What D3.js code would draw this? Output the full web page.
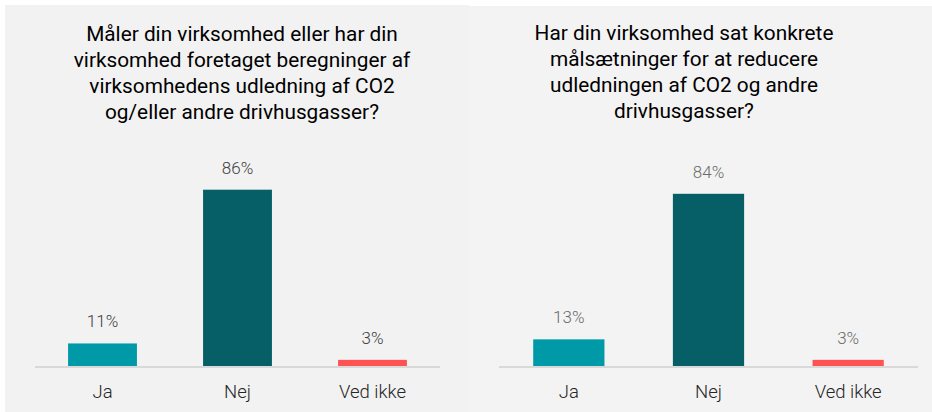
<!DOCTYPE html>
<html>
<head>
<meta charset="utf-8">
<script src="https://cdn.jsdelivr.net/npm/d3@7"></script>
<style>
  body { margin: 0; background: #fff; }
  svg { display: block; font-family: Roboto, "Noto Sans", sans-serif; }
</style>
</head>
<body>
<svg id="chart" width="932" height="412"></svg>
<script>
// data
const categories = ["Ja", "Nej", "Ved ikke"]
const maalerValues = [11, 86, 3]
const maalTitle = [
  "Måler din virksomhed eller har din",
  "virksomhed foretaget beregninger af",
  "virksomhedens udledning af CO2",
  "og/eller andre drivhusgasser?"
]
const saetValues = [13, 84, 3]
const saetTitle = [
  "Har din virksomhed sat konkrete",
  "målsætninger for at reducere",
  "udledningen af CO2 og andre",
  "drivhusgasser?"
]
const barColors = ["#0099a8", "#065e66", "#ff5252"]

const svg = d3.select("#chart")
const BASE = 366

const color = d3.scaleOrdinal().domain(categories).range(barColors)
const yScale = d3.scaleLinear().domain([0, 100]).range([BASE, BASE - 205])

function panel(opts) {
  const g = svg.append("g")

  g.append("rect")
    .attr("x", opts.bx).attr("y", opts.by)
    .attr("width", opts.bw).attr("height", 412 - opts.by)
    .attr("fill", opts.bg)

  const x = d3.scaleBand()
    .domain(categories)
    .range(opts.xr)
    .paddingInner(0.49)
    .paddingOuter(0.245)

  g.append("line")
    .attr("x1", opts.xr[0]).attr("x2", opts.xr[1])
    .attr("y1", BASE + 1).attr("y2", BASE + 1)
    .attr("stroke", "#d9d9d9")
    .attr("stroke-width", 2)

  const data = categories.map((c, i) => ({ cat: c, val: opts.values[i] }))

  g.selectAll("rect.bar")
    .data(data)
    .join("rect")
    .attr("class", "bar")
    .attr("x", d => x(d.cat))
    .attr("y", d => yScale(d.val))
    .attr("width", x.bandwidth())
    .attr("height", d => yScale(0) - yScale(d.val))
    .attr("fill", d => color(d.cat))

  g.selectAll("text.val")
    .data(data)
    .join("text")
    .attr("class", "val")
    .attr("x", d => x(d.cat) + x.bandwidth() / 2)
    .attr("y", d => yScale(d.val) - 16)
    .attr("text-anchor", "middle")
    .attr("fill", opts.valColor)
    .style("font-size", "17px")
    .style("font-weight", 300)
    .text(d => d.val + "%")

  g.selectAll("text.cat")
    .data(data)
    .join("text")
    .attr("class", "cat")
    .attr("x", d => x(d.cat) + x.bandwidth() / 2)
    .attr("y", 398)
    .attr("text-anchor", "middle")
    .attr("fill", "#262626")
    .style("font-size", "18.5px")
    .style("font-weight", 300)
    .text(d => d.cat)

  g.append("text")
    .attr("x", opts.tx)
    .attr("y", opts.ty)
    .attr("text-anchor", "middle")
    .attr("fill", "#000")
    .style("font-size", "20.8px")
    .selectAll("tspan")
    .data(opts.title)
    .join("tspan")
    .attr("x", opts.tx)
    .attr("dy", (d, i) => i === 0 ? 0 : 26)
    .text(d => d)
}

panel({
  bx: 5, by: 5, bw: 464, bg: "#f2f2f2",
  xr: [35, 440], values: maalerValues, title: maalTitle,
  tx: 242, ty: 41, valColor: "#404040"
})

panel({
  bx: 469, by: 6, bw: 463, bg: "#f3f3f3",
  xr: [499, 918], values: saetValues, title: saetTitle,
  tx: 684, ty: 40, valColor: "#6b6b6b"
})
</script>
</body>
</html>
